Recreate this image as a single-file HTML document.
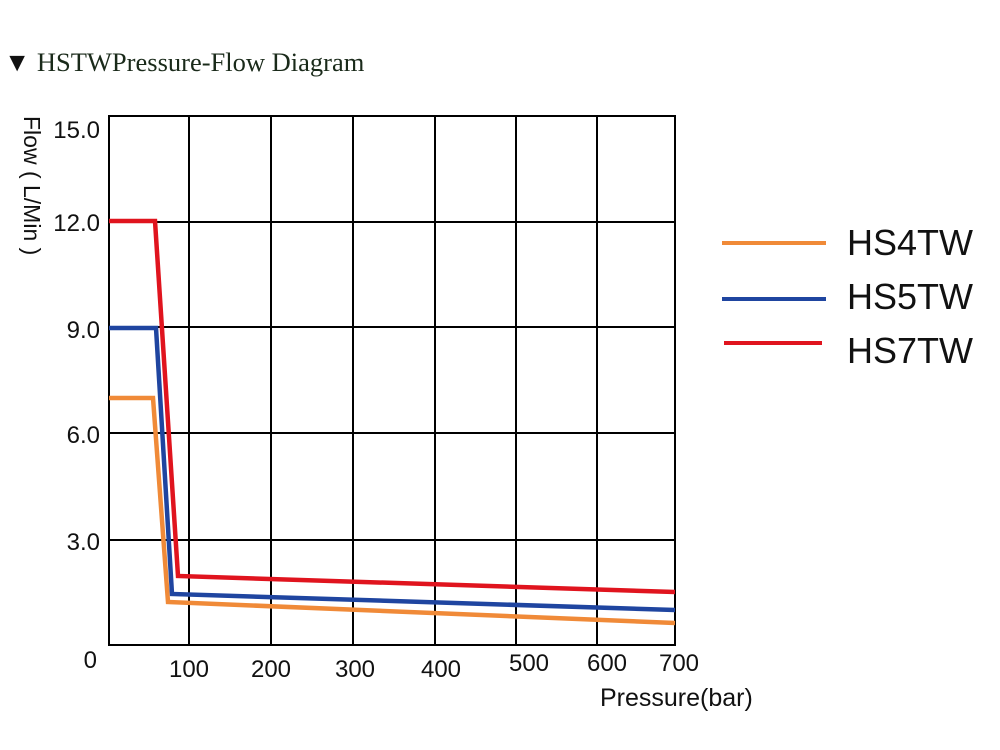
<!DOCTYPE html>
<html><head><meta charset="utf-8"><style>
html,body{margin:0;padding:0;background:#fff;}
svg{display:block;}
</style></head><body>
<svg width="1000" height="750" xmlns="http://www.w3.org/2000/svg">
<text x="4" y="71" font-family="Liberation Serif, serif" font-size="26.5" fill="#1a2a1a"><tspan fill="#111">▼</tspan> HSTWPressure-Flow Diagram</text>
<g stroke="#000" stroke-width="2" fill="none">
<rect x="109" y="116" width="566" height="529"/>
<line x1="189" y1="116" x2="189" y2="645"/>
<line x1="271" y1="116" x2="271" y2="645"/>
<line x1="353" y1="116" x2="353" y2="645"/>
<line x1="435" y1="116" x2="435" y2="645"/>
<line x1="516" y1="116" x2="516" y2="645"/>
<line x1="597" y1="116" x2="597" y2="645"/>
<line x1="109" y1="222" x2="675" y2="222"/>
<line x1="109" y1="327" x2="675" y2="327"/>
<line x1="109" y1="433" x2="675" y2="433"/>
<line x1="109" y1="540" x2="675" y2="540"/>
</g>
<g font-family="Liberation Sans, Arial, sans-serif" font-size="24" fill="#111">
<text x="100" y="138" text-anchor="end">15.0</text>
<text x="100" y="231" text-anchor="end">12.0</text>
<text x="100" y="338" text-anchor="end">9.0</text>
<text x="100" y="443" text-anchor="end">6.0</text>
<text x="100" y="550" text-anchor="end">3.0</text>
<text x="97" y="668" text-anchor="end">0</text>
<text x="189" y="677" text-anchor="middle">100</text>
<text x="271" y="677" text-anchor="middle">200</text>
<text x="355" y="677" text-anchor="middle">300</text>
<text x="441" y="677" text-anchor="middle">400</text>
<text x="529" y="671" text-anchor="middle">500</text>
<text x="607" y="671" text-anchor="middle">600</text>
<text x="679" y="671" text-anchor="middle">700</text>
<text x="600" y="706" font-size="25">Pressure(bar)</text>
<text transform="translate(24,116) rotate(90)" font-size="23">Flow ( L/Min )</text>
</g>
<g fill="none" stroke-width="4.5" stroke-linejoin="miter">
<polyline stroke="#f08a38" points="109,398 153,398 168,602 675,623"/>
<polyline stroke="#1f45a0" points="109,328 156,328 172,594 675,610"/>
<polyline stroke="#e0141e" points="109,221 155,221 178,576 675,592"/>
</g>
<g stroke-width="4">
<line x1="722" y1="243" x2="826" y2="243" stroke="#f08a38"/>
<line x1="722" y1="299" x2="826" y2="299" stroke="#1f45a0"/>
<line x1="724" y1="343" x2="822" y2="343" stroke="#e0141e"/>
</g>
<g font-family="Liberation Sans, Arial, sans-serif" font-size="36" fill="#111">
<text x="847" y="255">HS4TW</text>
<text x="847" y="309">HS5TW</text>
<text x="847" y="363">HS7TW</text>
</g>
</svg>
</body></html>
